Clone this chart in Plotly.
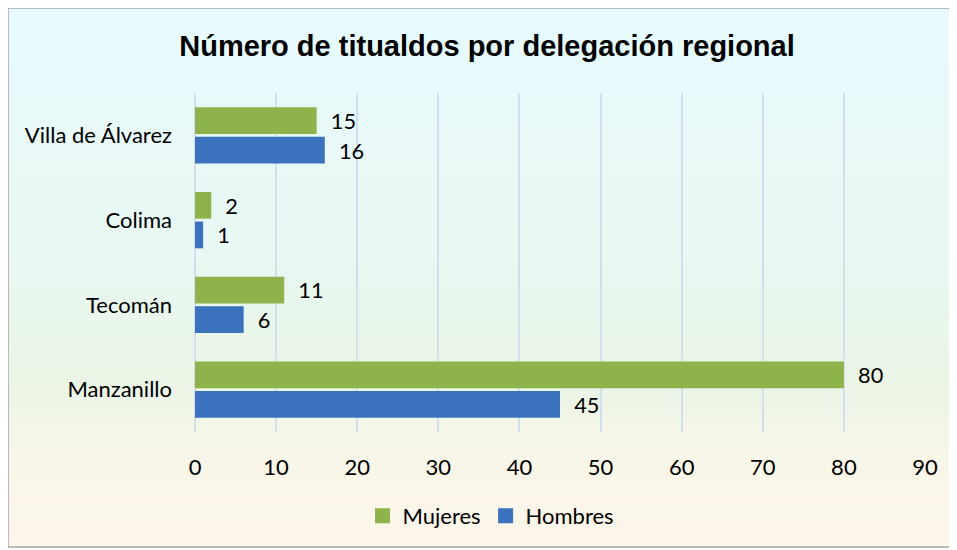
import plotly.graph_objects as go

categories = ["Manzanillo", "Tecomán", "Colima", "Villa de Álvarez"]
hombres = [45, 6, 1, 16]
mujeres = [80, 11, 2, 15]
x_ticks = [0, 10, 20, 30, 40, 50, 60, 70, 80, 90]

OFF = 8  # page body margin
W, H = 957 - OFF, 550 - OFF
L, R, T, B = 195 - OFF, 32, 93 - OFF, 118
pw, ph = W - L - R, H - T - B

def px(x):
    return (x - OFF - L) / pw

def py(y):
    return (H - B - (y - OFF)) / ph

FONT = "Lato"
FS = 22

fig = go.Figure()
fig.add_trace(go.Bar(
    y=categories, x=hombres, name="Hombres", orientation="h",
    marker=dict(color="#3A72BE", line=dict(width=0)), showlegend=False,
    text=["\u00a0\u00a0" + str(v) for v in hombres], textposition="outside",
    textfont=dict(family=FONT, size=FS, color="#000000"), cliponaxis=False,
))
fig.add_trace(go.Bar(
    y=categories, x=mujeres, name="Mujeres", orientation="h",
    marker=dict(color="#8DB34A", line=dict(width=0)), showlegend=False,
    text=["\u00a0\u00a0" + str(v) for v in mujeres], textposition="outside",
    textfont=dict(family=FONT, size=FS, color="#000000"), cliponaxis=False,
))
# legend entries
for name, c in [("Hombres", "#3A72BE"), ("Mujeres", "#8DB34A")]:
    fig.add_trace(go.Scatter(x=[None], y=[None], mode="markers", name=name,
                             marker=dict(symbol="square", size=15, color=c)))

stops = [(0.0, (231, 250, 254)), (0.45, (232, 248, 242)), (0.68, (233, 245, 229)),
         (0.85, (249, 246, 232)), (1.0, (253, 246, 235))]

def col(t):
    for i in range(len(stops) - 1):
        a, ca = stops[i]
        b, cb = stops[i + 1]
        if a <= t <= b:
            f = (t - a) / (b - a)
            return "rgb(%d,%d,%d)" % tuple(round(ca[k] + (cb[k] - ca[k]) * f) for k in range(3))
    return "rgb(%d,%d,%d)" % stops[-1][1]

shapes = []
fx0, fy0, fx1, fy1 = 8, 8, 953, 547
n = 60
for i in range(n):
    y0 = fy0 + (fy1 - fy0) * i / n
    y1 = fy0 + (fy1 - fy0) * (i + 1) / n + 0.6
    shapes.append(dict(type="rect", xref="paper", yref="paper", layer="below",
                       x0=px(fx0), x1=px(fx1), y0=py(y1), y1=py(y0),
                       fillcolor=col((i + 0.5) / n), line=dict(width=0)))
shapes.append(dict(type="rect", xref="paper", yref="paper", layer="below",
                   x0=px(fx0), x1=px(fx1), y0=py(fy1), y1=py(fy0),
                   fillcolor="rgba(0,0,0,0)", line=dict(color="#A6A6A6", width=1.5)))

fig.update_layout(
    width=W, height=H,
    margin=dict(l=L, r=R, t=T, b=B, autoexpand=False),
    paper_bgcolor="white", plot_bgcolor="rgba(0,0,0,0)",
    shapes=shapes,
    title=dict(text="<b>Número de titualdos por delegación regional</b>",
               font=dict(family="Liberation Sans", size=29, color="#000000"),
               x=(487 - OFF) / W, xanchor="center", y=1 - (46 - OFF) / H, yanchor="middle"),
    barmode="group", bargap=0.3, bargroupgap=0.1,
    showlegend=True,
    legend=dict(orientation="h", traceorder="reversed", x=(491 - OFF) / W, xref="container",
                xanchor="center", y=py(516), yanchor="middle",
                font=dict(family=FONT, size=FS, color="#000000"),
                bgcolor="rgba(0,0,0,0)", itemwidth=30),
    xaxis=dict(range=[0, 90], tickvals=x_ticks, ticktext=[str(v) for v in x_ticks],
               showgrid=True, gridcolor="#D3DEEF", gridwidth=2,
               zeroline=True, zerolinecolor="#D3DEEF", zerolinewidth=2,
               showline=False, ticks="", ticklabelstandoff=20,
               tickfont=dict(family=FONT, size=FS, color="#000000"), fixedrange=True),
    yaxis=dict(showgrid=False, zeroline=False, showline=False, ticks="",
               ticklabelstandoff=22,
               tickfont=dict(family=FONT, size=FS, color="#000000"), fixedrange=True),
)

fig.write_html("out.html")
